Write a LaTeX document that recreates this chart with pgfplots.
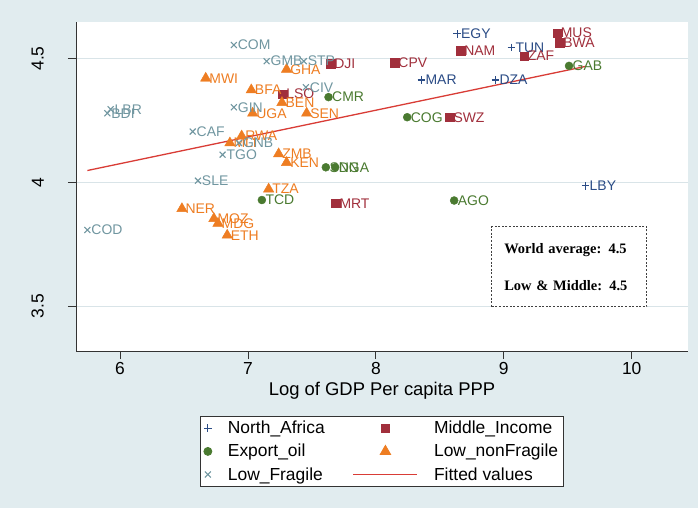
\documentclass[border=0pt]{standalone}
\usepackage{fontspec}
\setmainfont{Liberation Sans}
\newfontfamily\boxfont{Liberation Serif}
\usepackage{pgfplots}
\pgfplotsset{compat=1.18}
\usepackage{pgfplotstable}

\definecolor{bg}{HTML}{E1ECEF}
\definecolor{gridc}{HTML}{D9E4E8}
\definecolor{cNA}{HTML}{2B4C86}
\definecolor{cMI}{HTML}{A12F3C}
\definecolor{cEO}{HTML}{4A7A30}
\definecolor{cLN}{HTML}{EE7D22}
\definecolor{cLF}{HTML}{7096A0}
\definecolor{cFit}{HTML}{D93C36}

\pgfplotstableread{
x y lab
8.635 4.599 EGY
9.060 4.544 TUN
8.357 4.413 MAR
8.935 4.413 DZA
9.640 3.986 LBY
}\northafrica

\pgfplotstableread{
x y lab
9.417 4.602 MUS
9.437 4.564 BWA
9.159 4.510 ZAF
8.662 4.531 NAM
8.148 4.483 CPV
8.578 4.263 SWZ
7.646 4.478 DJI
7.271 4.356 LSO
7.687 3.916 MRT
}\middleincome

\pgfplotstableread{
x y lab
9.510 4.470 GAB
8.245 4.263 COG
7.630 4.344 CMR
8.612 3.927 AGO
7.109 3.929 TCD
7.609 4.061 SDN
7.682 4.061 NGA
}\exportoil

\pgfplotstableread{
x y lab
6.670 4.420 MWI
7.302 4.456 GHA
7.026 4.373 BFA
7.266 4.322 BEN
7.037 4.279 UGA
7.459 4.279 SEN
6.951 4.187 RWA
6.859 4.159 MLI
7.240 4.115 ZMB
7.302 4.080 KEN
7.162 3.973 TZA
6.484 3.894 NER
6.734 3.854 MOZ
6.766 3.835 MDG
6.838 3.787 ETH
}\lownonfragile

\pgfplotstableread{
x y lab
6.890 4.554 COM
7.146 4.489 GMB
7.437 4.489 STP
7.453 4.384 CIV
6.890 4.303 GIN
5.927 4.295 LBR
5.901 4.279 BDI
6.568 4.205 CAF
6.930 4.159 GNB
6.802 4.112 TGO
6.609 4.007 SLE
5.745 3.808 COD
}\lowfragile

\pgfplotsset{
  lab/.style={nodes near coords, point meta=explicit symbolic,
    every node near coord/.append style={anchor=west, xshift=2.5bp, inner sep=1bp,
      font=\fontsize{14}{14}\selectfont, text=#1}},
  leftimg/.style={legend image code/.code={\draw[##1] plot coordinates {(0bp,0bp)};}},
  rightimg/.style={legend image code/.code={\path[draw=none,fill=none] (0bp,0bp) -- (64bp,0bp); \draw[##1] plot coordinates {(32bp,0bp)};}},
  lineimg/.style={legend image code/.code={\draw[##1] (0bp,0bp) -- (64bp,0bp);}},
}

\begin{document}
\begin{tikzpicture}
\fill[bg] (0,0) rectangle (698bp,508bp);
\useasboundingbox (0,0) rectangle (698bp,508bp);
\begin{axis}[
  at={(76bp,157bp)}, anchor=south west,
  scale only axis, width=612bp, height=329bp,
  xmin=5.656, xmax=10.44, ymin=3.32, ymax=4.647,
  axis background/.style={fill=white},
  axis x line*=bottom, axis y line*=left,
  axis line style={draw=black!80, line width=0.8bp},
  tick align=outside, major tick length=8bp,
  tick style={black!80, line width=0.8bp},
  xtick={6,7,8,9,10}, ytick={3.5,4,4.5},
  ymajorgrids, grid style={gridc, line width=0.9bp},
  /pgf/number format/assume math mode=true,
  ticklabel style={font=\fontsize{17.5}{20}\selectfont},
  yticklabel style={rotate=90, anchor=south, inner ysep=2bp},
  yticklabel shift=22bp,
  xlabel={Log of GDP Per capita PPP},
  xlabel style={font=\fontsize{18.5}{21}\selectfont},
  legend columns=2,
  legend style={at={(0.5,-0.197)}, anchor=north, draw=black!80, fill=white,
    line width=0.8bp, font=\fontsize{17.5}{20}\selectfont,
    inner xsep=3bp, inner ysep=3bp,
    nodes={inner sep=2bp},
    /tikz/every odd column/.append style={column sep=14bp},
    /tikz/every even column/.append style={column sep=26bp},
    row sep=5bp},
  legend cell align=left,
]
\addplot[only marks, mark=+, mark size=3.8bp, cNA, line width=1.1bp, lab=cNA, leftimg]
  table[x=x, y=y, meta=lab] {\northafrica};
\addlegendentry{North\_Africa}
\addplot[only marks, mark=square*, mark size=4.2bp, cMI, lab=cMI, rightimg]
  table[x=x, y=y, meta=lab] {\middleincome};
\addlegendentry{Middle\_Income}
\addplot[only marks, mark=*, mark size=4bp, cEO, lab=cEO, leftimg]
  table[x=x, y=y, meta=lab] {\exportoil};
\addlegendentry{Export\_oil}
\addplot[only marks, mark=triangle*, mark size=6bp, cLN, lab=cLN, rightimg]
  table[x=x, y=y, meta=lab] {\lownonfragile};
\addlegendentry{Low\_nonFragile}
\addplot[only marks, mark=x, mark size=4.2bp, cLF, line width=1.1bp, lab=cLF, leftimg]
  table[x=x, y=y, meta=lab] {\lowfragile};
\addlegendentry{Low\_Fragile}
\addplot[cFit, line width=1.3bp, lineimg] coordinates {(5.745,4.048) (9.640,4.468)};
\addlegendentry{Fitted values}

\node[draw=black!75, line width=1.1bp, dash pattern=on 2bp off 1.6bp,
  fill=white, text width=130bp, inner xsep=12.5bp, minimum height=80bp,
  align=left, font=\boxfont\bfseries\fontsize{14.5}{16}\selectfont]
  at (axis cs:9.512,3.66) {World average: 4.5\\[21bp]Low \& Middle: 4.5};
\end{axis}
\end{tikzpicture}
\end{document}
